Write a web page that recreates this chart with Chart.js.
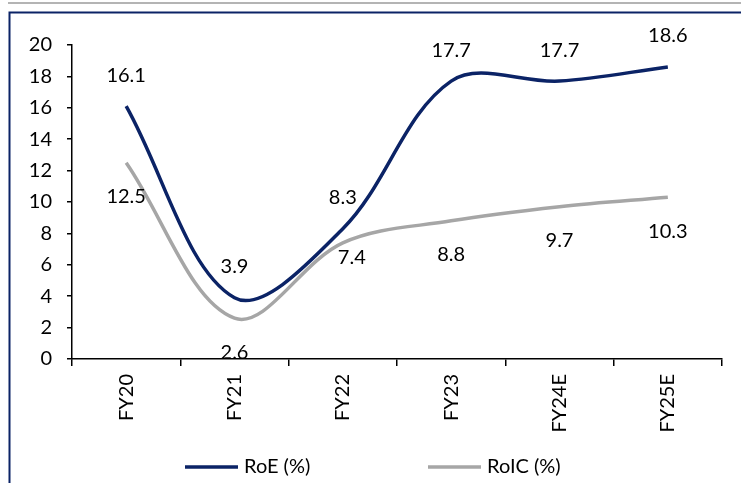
<!DOCTYPE html>
<html>
<head>
<meta charset="utf-8">
<script src="https://cdn.jsdelivr.net/npm/chart.js@4/dist/chart.umd.min.js"></script>
<style>
  html, body { margin: 0; padding: 0; background: #ffffff; }
  #wrap { width: 741px; height: 483px; position: relative; }
</style>
</head>
<body>
<div id="wrap"><canvas id="c" width="741" height="483"></canvas></div>
<script>
// Fiscal years on the category axis
const years = ['FY20', 'FY21', 'FY22', 'FY23', 'FY24E', 'FY25E'];
// Return ratios, in percent
const roe = [16.1, 3.9, 8.3, 17.7, 17.7, 18.6];
const roic = [12.5, 2.6, 7.4, 8.8, 9.7, 10.3];
// Value axis ticks
const yTicks = [0, 2, 4, 6, 8, 10, 12, 14, 16, 18, 20];

const NAVY = '#0b2366';
const GREY = '#a6a6a6';
const FONT = 'Lato, "Open Sans", sans-serif';

// Outer frame: thin grey rule on top, navy box underneath
const framePlugin = {
  id: 'frame',
  beforeDraw(chart) {
    const ctx = chart.ctx;
    ctx.save();
    ctx.fillStyle = '#ffffff';
    ctx.fillRect(0, 0, chart.width, chart.height);
    ctx.strokeStyle = '#b4b4b4';
    ctx.lineWidth = 2;
    ctx.beginPath();
    ctx.moveTo(8, 3);
    ctx.lineTo(chart.width, 3);
    ctx.stroke();
    ctx.strokeStyle = NAVY;
    ctx.lineWidth = 2;
    ctx.beginPath();
    ctx.moveTo(9.5, chart.height + 2);
    ctx.lineTo(9.5, 12.5);
    ctx.lineTo(chart.width + 2, 12.5);
    ctx.stroke();
    ctx.restore();
  }
};

// Value labels next to each point
const valueLabels = {
  id: 'valueLabels',
  afterDatasetsDraw(chart, args, opts) {
    const ctx = chart.ctx;
    ctx.save();
    ctx.font = '20px ' + FONT;
    ctx.fillStyle = '#000000';
    ctx.textAlign = 'center';
    ctx.textBaseline = 'middle';
    chart.data.datasets.forEach((ds, di) => {
      const meta = chart.getDatasetMeta(di);
      const shift = opts.shifts[di];
      meta.data.forEach((pt, i) => {
        const s = (shift.special && shift.special[i]) || { dx: 0, dy: shift.dy };
        ctx.fillText(ds.data[i].toFixed(1), pt.x + s.dx, pt.y + s.dy);
      });
    });
    ctx.restore();
  }
};

// Legend drawn as short line samples below the axis
const lineLegend = {
  id: 'lineLegend',
  afterDraw(chart, args, opts) {
    const ctx = chart.ctx;
    ctx.save();
    ctx.font = '20px ' + FONT;
    ctx.textBaseline = 'middle';
    ctx.textAlign = 'left';
    chart.data.datasets.forEach((ds, di) => {
      const x = opts.starts[di];
      const y = opts.y;
      ctx.strokeStyle = ds.borderColor;
      ctx.lineWidth = 3.5;
      ctx.beginPath();
      ctx.moveTo(x, y);
      ctx.lineTo(x + 53, y);
      ctx.stroke();
      ctx.fillStyle = '#000000';
      ctx.fillText(ds.label, x + 59, y);
    });
    ctx.restore();
  }
};

new Chart(document.getElementById('c'), {
  type: 'line',
  data: {
    labels: years,
    datasets: [
      { label: 'RoE (%)', data: roe, borderColor: NAVY, borderWidth: 3.5, pointRadius: 0, tension: 0.35, fill: false },
      { label: 'RoIC (%)', data: roic, borderColor: GREY, borderWidth: 3.5, pointRadius: 0, tension: 0.35, fill: false }
    ]
  },
  options: {
    responsive: false,
    animation: false,
    devicePixelRatio: 1,
    layout: { padding: { left: 0, right: 19, top: 45, bottom: 44 } },
    plugins: {
      legend: { display: false },
      tooltip: { enabled: false },
      valueLabels: {
        shifts: [
          { dy: -31 },
          { dy: 34, special: { 2: { dx: 9, dy: 15 } } }
        ]
      },
      lineLegend: { y: 467, starts: [185, 428] }
    },
    scales: {
      x: {
        offset: true,
        grid: { offset: true, drawOnChartArea: false, drawTicks: true, tickLength: 7, color: '#000000', lineWidth: 1.5 },
        border: { display: true, color: '#000000', width: 1.5 },
        ticks: { color: '#000000', font: { family: FONT, size: 20 }, minRotation: 90, maxRotation: 90, padding: 8, autoSkip: false },
        afterFit(scale) { scale.height = 80; }
      },
      y: {
        min: 0,
        max: 20,
        afterBuildTicks(scale) { scale.ticks = yTicks.map(v => ({ value: v })); },
        grid: { drawOnChartArea: false, drawTicks: true, tickLength: 5, color: '#000000', lineWidth: 1.5 },
        border: { display: true, color: '#000000', width: 1.5 },
        ticks: { color: '#000000', font: { family: FONT, size: 20 }, padding: 15 },
        afterFit(scale) { scale.width = 72; }
      }
    }
  },
  plugins: [framePlugin, valueLabels, lineLegend]
});
</script>
</body>
</html>
